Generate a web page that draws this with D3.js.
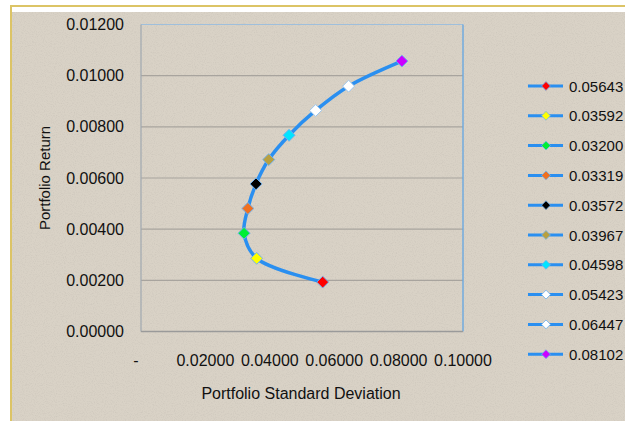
<!DOCTYPE html>
<html>
<head>
<meta charset="utf-8">
<script src="https://cdn.jsdelivr.net/npm/d3@7"></script>
<style>
  body { margin: 0; background: #ffffff; }
  text { font-family: "Liberation Sans", Arial, sans-serif; fill: #111111; }
</style>
</head>
<body>
<svg id="chart" width="625" height="421"></svg>
<script>
// portfolio std dev (legend labels) and return
const stdDevs = [0.05643, 0.03592, 0.03200, 0.03319, 0.03572, 0.03967, 0.04598, 0.05423, 0.06447, 0.08102];
const returns = [0.00193, 0.00286, 0.00384, 0.00481, 0.00577, 0.00672, 0.00767, 0.00864, 0.00959, 0.01057];
const markerColors = ['#ff0000', '#ffff00', '#00ee33', '#f07020', '#000000', '#b8a040', '#00e5ff', '#ffffff', '#ffffff', '#cc00ff'];
const yTicks = [0, 0.002, 0.004, 0.006, 0.008, 0.010, 0.012];
const xTicks = [0, 0.02, 0.04, 0.06, 0.08, 0.10];

var svg = d3.select('#chart');

// frame + background
svg.append('rect').attr('x', 12).attr('y', 12).attr('width', 613).attr('height', 409).attr('fill', '#d9d2c6');
svg.append('line').attr('x1', 10).attr('x2', 625).attr('y1', 6).attr('y2', 6)
    .attr('stroke', '#dcc466').attr('stroke-width', 2);
svg.append('line').attr('x1', 11).attr('x2', 11).attr('y1', 5).attr('y2', 421)
    .attr('stroke', '#dcc466').attr('stroke-width', 2);

// speckle texture
var defs = svg.append('defs');
var f = defs.append('filter').attr('id', 'noise').attr('x', 0).attr('y', 0).attr('width', '100%').attr('height', '100%');
f.append('feTurbulence').attr('type', 'fractalNoise').attr('baseFrequency', 0.9).attr('numOctaves', 2).attr('seed', 3);
f.append('feColorMatrix').attr('type', 'matrix')
    .attr('values', '0 0 0 0 0.45  0 0 0 0 0.42  0 0 0 0 0.38  0 0 0 -1.6 0.9');
svg.append('rect').attr('x', 12).attr('y', 12).attr('width', 613).attr('height', 409)
    .attr('filter', 'url(#noise)').attr('opacity', 0.35);

var plot = { left: 141, right: 463, top: 24.5, bottom: 331.5 };

var x = d3.scaleLinear().domain([0, 0.1]).range([plot.left, plot.right]);
var y = d3.scaleLinear().domain([0, 0.012]).range([plot.bottom, plot.top]);

// gridlines
svg.append('g')
  .selectAll('line')
  .data(yTicks.slice(1, -1))
  .join('line')
    .attr('x1', plot.left).attr('x2', plot.right)
    .attr('y1', d => y(d)).attr('y2', d => y(d))
    .attr('stroke', '#a8a49e').attr('stroke-width', 1.2);

// plot area border
svg.append('line').attr('x1', plot.left).attr('x2', plot.right).attr('y1', plot.top).attr('y2', plot.top)
    .attr('stroke', '#9fbfdc').attr('stroke-width', 1.2);
svg.append('line').attr('x1', plot.right).attr('x2', plot.right).attr('y1', plot.top).attr('y2', plot.bottom)
    .attr('stroke', '#6aa8e0').attr('stroke-width', 1.4);
svg.append('line').attr('x1', plot.left).attr('x2', plot.left).attr('y1', plot.top).attr('y2', plot.bottom)
    .attr('stroke', '#a0a8b0').attr('stroke-width', 1.2);
svg.append('line').attr('x1', plot.left).attr('x2', plot.right).attr('y1', plot.bottom).attr('y2', plot.bottom)
    .attr('stroke', '#9a9a9a').attr('stroke-width', 1.4);

// y axis labels
svg.append('g')
  .selectAll('text')
  .data(yTicks)
  .join('text')
    .attr('x', 124)
    .attr('y', d => y(d) + 5.5)
    .attr('text-anchor', 'end')
    .style('font-size', '16px')
    .text(d => d3.format('.5f')(d));

// x axis labels ("-" for zero, accounting style)
svg.append('g')
  .selectAll('text')
  .data(xTicks)
  .join('text')
    .attr('x', d => d === 0 ? 136 : x(d))
    .attr('y', 366)
    .attr('text-anchor', 'middle')
    .style('font-size', '16px')
    .text(d => d === 0 ? '-' : d3.format('.5f')(d));

// axis titles
svg.append('text')
    .attr('transform', 'translate(50,178)rotate(-90)')
    .attr('text-anchor', 'middle')
    .style('font-size', '15px')
    .text('Portfolio Return');
svg.append('text')
    .attr('x', 301).attr('y', 399)
    .attr('text-anchor', 'middle')
    .style('font-size', '16px')
    .text('Portfolio Standard Deviation');

// the frontier curve, sorted by return
var pts = stdDevs.map((d, i) => ({ sd: d, ret: returns[i], color: markerColors[i] }));
var line = d3.line()
    .x(d => x(d.sd))
    .y(d => y(d.ret))
    .curve(d3.curveCatmullRom.alpha(0.5));

svg.append('path')
    .datum(pts.slice().sort((a, b) => a.ret - b.ret))
    .attr('d', line)
    .attr('fill', 'none')
    .attr('stroke', '#2a8ff0')
    .attr('stroke-width', 3.5);

var diamond = d3.symbol().type(d3.symbolDiamond2).size(90);

svg.append('g')
  .selectAll('path')
  .data(pts)
  .join('path')
    .attr('transform', d => 'translate(' + x(d.sd) + ',' + y(d.ret) + ')')
    .attr('d', diamond)
    .attr('fill', d => d.color)
    .attr('stroke', d => d.color === '#ffffff' ? '#9cc6ee' : '#6fb0ee')
    .attr('stroke-width', 1)
    .attr('stroke-linejoin', 'round');

// legend
var legend = svg.append('g')
  .selectAll('g')
  .data(pts)
  .join('g')
    .attr('transform', (d, i) => 'translate(528,' + (86 + i * 29.8) + ')');

legend.append('line')
    .attr('x1', 0).attr('x2', 35)
    .attr('stroke', '#2a8ff0').attr('stroke-width', 3);
legend.append('path')
    .attr('transform', 'translate(18,0)')
    .attr('d', d3.symbol().type(d3.symbolDiamond2).size(50))
    .attr('fill', d => d.color)
    .attr('stroke', '#6fb0ee')
    .attr('stroke-width', 0.8)
    .attr('stroke-linejoin', 'round');
legend.append('text')
    .attr('x', 41).attr('y', 5.5)
    .style('font-size', '15px')
    .text(d => d3.format('.5f')(d.sd));
</script>
</body>
</html>
